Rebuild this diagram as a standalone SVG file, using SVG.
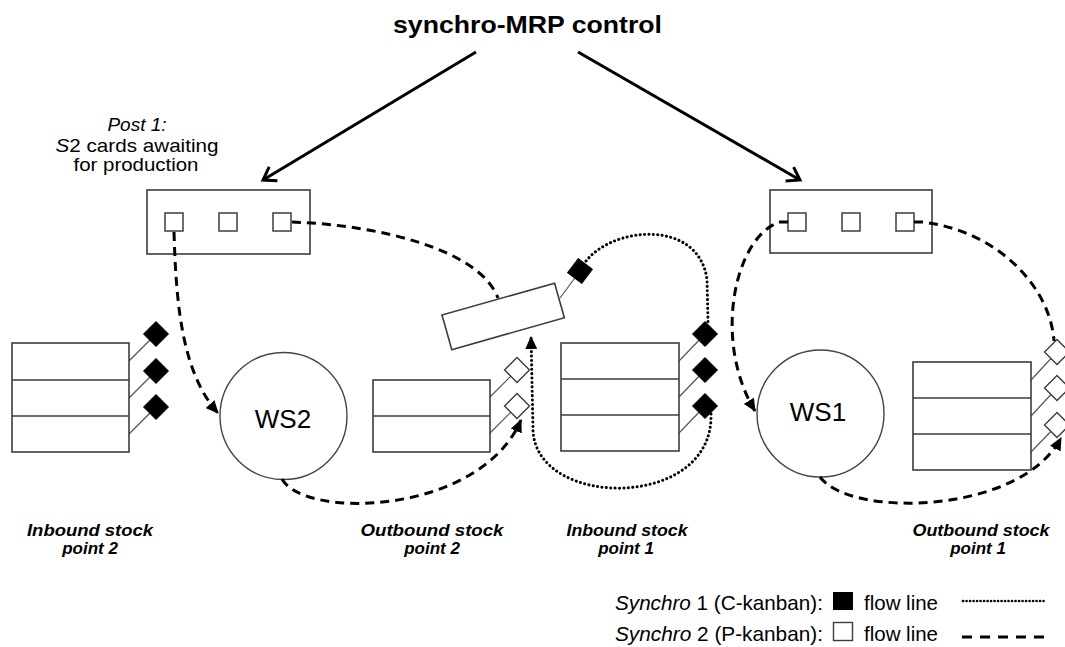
<svg xmlns="http://www.w3.org/2000/svg" width="1065" height="647" viewBox="0 0 1065 647">
<style>
text{font-family:"Liberation Sans",Arial,sans-serif;fill:#000}
.box{fill:#fff;stroke:#3c3c3c;stroke-width:1.6}
.row{fill:none;stroke:#3c3c3c;stroke-width:1.6}
.card{fill:#fff;stroke:#3c3c3c;stroke-width:1.5}
.ws{fill:#fff;stroke:#444;stroke-width:1.4}
.lead{stroke:#555;stroke-width:1.2;fill:none}
.bd{fill:#000;stroke:#000;stroke-width:1}
.wd{fill:#fff;stroke:#3c3c3c;stroke-width:1.4}
.dash{fill:none;stroke:#000;stroke-width:3;stroke-dasharray:9 6}
.dot{fill:none;stroke:#000;stroke-width:3;stroke-dasharray:0.1 4.3;stroke-linecap:round}
.ctl{fill:none;stroke:#000;stroke-width:3}
.lbl{font-size:17px;font-weight:bold;font-style:italic;text-anchor:middle}
.ws-t{font-size:26px;text-anchor:middle}
.leg{font-size:21px}
</style>
<defs>
<marker id="tri" markerUnits="userSpaceOnUse" markerWidth="14" markerHeight="12" refX="12" refY="6" orient="auto">
<path d="M0,0 L13,6 L0,12 z" fill="#000"/>
</marker>
<marker id="vee" markerUnits="userSpaceOnUse" markerWidth="20" markerHeight="20" refX="15" refY="10" orient="auto">
<path d="M3,2 L15,10 L3,18" fill="none" stroke="#000" stroke-width="3"/>
</marker>
<path id="dmd" d="M0,-12.5 L12.5,0 L0,12.5 L-12.5,0 z"/>
</defs>

<g id="title">
<text x="527.5" y="33" font-size="24" font-weight="bold" text-anchor="middle" textLength="269" lengthAdjust="spacingAndGlyphs">synchro-MRP control</text>
</g>

<g id="post1-label">
<text x="137" y="131" font-size="19" font-style="italic" text-anchor="middle">Post 1:</text>
<text x="137" y="152" font-size="19" text-anchor="middle" textLength="163" lengthAdjust="spacingAndGlyphs"><tspan font-style="italic">S</tspan>2 cards awaiting</text>
<text x="136" y="171" font-size="19" text-anchor="middle" textLength="125" lengthAdjust="spacingAndGlyphs">for production</text>
</g>

<g id="post-left">
<rect class="box" x="147" y="190" width="163" height="64"/>
<rect class="card" x="165" y="213" width="18" height="18"/>
<rect class="card" x="219" y="213" width="18" height="18"/>
<rect class="card" x="273" y="213" width="18" height="18"/>
</g>

<g id="post-right">
<rect class="box" x="770" y="190" width="162" height="63"/>
<rect class="card" x="788" y="213" width="18" height="18"/>
<rect class="card" x="842" y="213" width="18" height="18"/>
<rect class="card" x="896" y="213" width="18" height="18"/>
</g>

<g id="inbound-stock-2">
<line class="lead" x1="129" y1="361" x2="156" y2="334"/>
<line class="lead" x1="129" y1="398" x2="156" y2="371"/>
<line class="lead" x1="129" y1="434" x2="156" y2="407"/>
<rect class="box" x="12" y="343" width="117" height="109"/>
<line class="row" x1="12" y1="380" x2="129" y2="380"/>
<line class="row" x1="12" y1="416" x2="129" y2="416"/>
<use href="#dmd" class="bd" x="156" y="334"/>
<use href="#dmd" class="bd" x="156" y="371"/>
<use href="#dmd" class="bd" x="156" y="407"/>
</g>

<g id="ws2">
<circle class="ws" cx="283.5" cy="416" r="63.5"/>
<text class="ws-t" x="283" y="428">WS2</text>
</g>

<g id="outbound-stock-2">
<line class="lead" x1="490" y1="397" x2="517" y2="370"/>
<line class="lead" x1="490" y1="433" x2="517" y2="406"/>
<rect class="box" x="373" y="380" width="117" height="72"/>
<line class="row" x1="373" y1="416" x2="490" y2="416"/>
<use href="#dmd" class="wd" x="517" y="370"/>
<use href="#dmd" class="wd" x="517" y="406"/>
</g>

<g id="post-transfer">
<line class="lead" x1="560" y1="298" x2="580" y2="271"/>
<rect class="box" x="0" y="0" width="117" height="36" transform="translate(442 315) rotate(-15.8)"/>
<use href="#dmd" class="bd" transform="translate(580 271) rotate(-8)"/>
</g>

<g id="inbound-stock-1">
<line class="lead" x1="679" y1="361" x2="705" y2="334"/>
<line class="lead" x1="679" y1="397" x2="705" y2="370"/>
<line class="lead" x1="679" y1="433" x2="705" y2="406"/>
<rect class="box" x="561" y="343" width="118" height="108"/>
<line class="row" x1="561" y1="379" x2="679" y2="379"/>
<line class="row" x1="561" y1="415" x2="679" y2="415"/>
<use href="#dmd" class="bd" x="705" y="334"/>
<use href="#dmd" class="bd" x="705" y="370"/>
<use href="#dmd" class="bd" x="705" y="406"/>
</g>

<g id="ws1">
<circle class="ws" cx="820.5" cy="413.5" r="63.5"/>
<text class="ws-t" x="818" y="421">WS1</text>
</g>

<g id="outbound-stock-1">
<line class="lead" x1="1031" y1="380" x2="1057" y2="352"/>
<line class="lead" x1="1031" y1="416" x2="1057" y2="388"/>
<line class="lead" x1="1031" y1="452" x2="1057" y2="425"/>
<rect class="box" x="913" y="362" width="118" height="108"/>
<line class="row" x1="913" y1="398" x2="1031" y2="398"/>
<line class="row" x1="913" y1="434" x2="1031" y2="434"/>
<use href="#dmd" class="wd" x="1057" y="352"/>
<use href="#dmd" class="wd" x="1057" y="388"/>
<use href="#dmd" class="wd" x="1057" y="425"/>
</g>

<g id="connectors">
<line class="ctl" x1="476" y1="52" x2="263" y2="180" marker-end="url(#vee)"/>
<line class="ctl" x1="578" y1="52" x2="800" y2="180" marker-end="url(#vee)"/>
<path class="dash" d="M174,232 C176,300 181,372 218,413" marker-end="url(#tri)"/>
<path class="dash" d="M292,222 C380,225 480,250 498,298"/>
<path class="dot" d="M586,261 C615,225 700,220 707,280 L708,322"/>
<path class="dot" d="M711,414 C714,510 536,510 533,430 L531,337" marker-end="url(#tri)"/>
<path class="dash" d="M282,479 C305,520 480,515 521,420" marker-end="url(#tri)"/>
<path class="dash" d="M788,222 L780,222 C735,236 712,340 755,411" marker-end="url(#tri)"/>
<path class="dash" d="M914,222 L922,222 C995,230 1050,285 1054,341"/>
<path class="dash" d="M820,477 C850,518 1020,515 1061,438" marker-end="url(#tri)"/>
</g>

<g id="labels">
<text class="lbl" x="90" y="536" textLength="126" lengthAdjust="spacingAndGlyphs">Inbound stock</text>
<text class="lbl" x="90" y="554">point 2</text>
<text class="lbl" x="432" y="536" textLength="143" lengthAdjust="spacingAndGlyphs">Outbound stock</text>
<text class="lbl" x="432" y="554">point 2</text>
<text class="lbl" x="627" y="536" textLength="121" lengthAdjust="spacingAndGlyphs">Inbound stock</text>
<text class="lbl" x="626" y="554">point 1</text>
<text class="lbl" x="981" y="536" textLength="137" lengthAdjust="spacingAndGlyphs">Outbound stock</text>
<text class="lbl" x="978" y="554">point 1</text>
</g>

<g id="legend">
<text class="leg" x="615" y="610" textLength="208" lengthAdjust="spacingAndGlyphs"><tspan font-style="italic">Synchro</tspan> 1 (C-kanban):</text>
<rect x="833" y="592" width="20" height="18" fill="#000"/>
<text class="leg" x="864" y="610" textLength="74" lengthAdjust="spacingAndGlyphs">flow line</text>
<line class="dot" x1="963" y1="601" x2="1046" y2="601" style="stroke-width:2.6;stroke-dasharray:0.1 3.4"/>
<text class="leg" x="615" y="641" textLength="208" lengthAdjust="spacingAndGlyphs"><tspan font-style="italic">Synchro</tspan> 2 (P-kanban):</text>
<rect x="833.5" y="622.5" width="19" height="18" fill="#fff" stroke="#3c3c3c" stroke-width="1.4"/>
<text class="leg" x="864" y="641" textLength="74" lengthAdjust="spacingAndGlyphs">flow line</text>
<line class="dash" x1="962" y1="637" x2="1046" y2="637" style="stroke-dasharray:10 8"/>
</g>
</svg>
